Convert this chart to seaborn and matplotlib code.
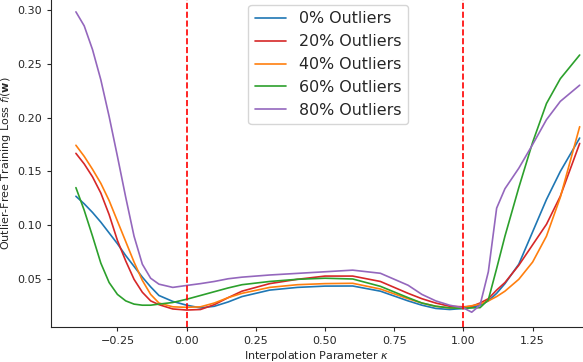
import numpy as np
import pandas as pd
import matplotlib
matplotlib.use("Agg")
import matplotlib.pyplot as plt
import seaborn as sns

# interpolation grid (kappa)
kappa = [-0.40, -0.37, -0.34, -0.31, -0.28, -0.25, -0.22, -0.19, -0.16, -0.13,
         -0.10, -0.05, 0.00, 0.05, 0.10, 0.15, 0.20, 0.30, 0.40, 0.50,
         0.60, 0.70, 0.80, 0.85, 0.90, 0.95, 1.00, 1.03, 1.06, 1.09,
         1.12, 1.15, 1.20, 1.25, 1.30, 1.35, 1.42]

loss_0 = [0.127, 0.120, 0.112, 0.103, 0.093, 0.083, 0.072, 0.062, 0.052, 0.043,
          0.035, 0.0295, 0.026, 0.0235, 0.025, 0.029, 0.034, 0.040, 0.0425, 0.0437,
          0.0438, 0.039, 0.030, 0.026, 0.023, 0.022, 0.023, 0.024, 0.026, 0.030,
          0.037, 0.046, 0.064, 0.094, 0.124, 0.150, 0.181]
loss_20 = [0.1668, 0.157, 0.145, 0.130, 0.110, 0.086, 0.067, 0.050, 0.038, 0.030,
           0.0265, 0.0225, 0.0215, 0.022, 0.0265, 0.033, 0.039, 0.046, 0.050, 0.053,
           0.053, 0.048, 0.037, 0.032, 0.028, 0.025, 0.0245, 0.025, 0.028, 0.032,
           0.040, 0.047, 0.063, 0.082, 0.101, 0.127, 0.176]
loss_40 = [0.1743, 0.164, 0.152, 0.139, 0.123, 0.104, 0.085, 0.066, 0.049, 0.036,
           0.028, 0.0245, 0.024, 0.0245, 0.028, 0.033, 0.037, 0.0425, 0.045, 0.046,
           0.0463, 0.041, 0.032, 0.028, 0.025, 0.0235, 0.024, 0.0255, 0.027, 0.030,
           0.034, 0.039, 0.050, 0.066, 0.090, 0.126, 0.1915]
loss_60 = [0.135, 0.114, 0.090, 0.065, 0.047, 0.036, 0.030, 0.027, 0.026, 0.026,
           0.027, 0.0285, 0.0315, 0.035, 0.0385, 0.042, 0.045, 0.048, 0.050, 0.051,
           0.0503, 0.0435, 0.033, 0.028, 0.025, 0.0235, 0.023, 0.0235, 0.0237, 0.031,
           0.060, 0.090, 0.135, 0.177, 0.213, 0.236, 0.258]
loss_80 = [0.298, 0.285, 0.263, 0.235, 0.201, 0.164, 0.126, 0.090, 0.064, 0.051,
           0.0455, 0.0425, 0.0443, 0.046, 0.048, 0.0505, 0.052, 0.054, 0.0555, 0.057,
           0.0585, 0.0556, 0.0445, 0.036, 0.030, 0.026, 0.0235, 0.0195, 0.026, 0.057,
           0.116, 0.134, 0.153, 0.175, 0.198, 0.215, 0.230]

labels = ["0% Outliers", "20% Outliers", "40% Outliers", "60% Outliers", "80% Outliers"]
colors = ["#1f77b4", "#d62728", "#ff7f0e", "#2ca02c", "#9467bd"]

df = pd.concat([
    pd.DataFrame({"kappa": kappa, "loss": vals, "series": lab})
    for lab, vals in zip(labels, [loss_0, loss_20, loss_40, loss_60, loss_80])
], ignore_index=True)

sns.set_style("ticks")
plt.rcParams["font.family"] = ["DejaVu Sans"]

fig = plt.figure(figsize=(5.83, 3.62), dpi=100)
ax = fig.add_axes([51 / 583, 34.7 / 362, 532 / 583, 327.3 / 362])

sns.lineplot(data=df, x="kappa", y="loss", hue="series", hue_order=labels,
             palette=colors, estimator=None, sort=False, linewidth=1.2, ax=ax)

ax.axvline(0.0, color="red", linestyle="--", linewidth=1.2)
ax.axvline(1.0, color="red", linestyle="--", linewidth=1.2)

ax.set_xlim(-0.49, 1.432)
ax.set_ylim(0.0055, 0.309)
ax.set_xticks([-0.25, 0.0, 0.25, 0.5, 0.75, 1.0, 1.25])
ax.set_yticks([0.05, 0.10, 0.15, 0.20, 0.25, 0.30])
ax.tick_params(labelsize=8, length=3, width=0.8)
ax.set_xlabel(r"Interpolation Parameter $\kappa$", fontsize=8, labelpad=2)
ax.set_ylabel(r"Outlier-Free Training Loss $f_l(\mathbf{w})$", fontsize=8, labelpad=3)
for s in ["left", "bottom"]:
    ax.spines[s].set_linewidth(0.8)
sns.despine(ax=ax)

ax.legend(loc="upper center", bbox_to_anchor=(0.521, 0.985), borderaxespad=0,
          fontsize=11.4, frameon=True)

fig.savefig("out.png", dpi=100)
